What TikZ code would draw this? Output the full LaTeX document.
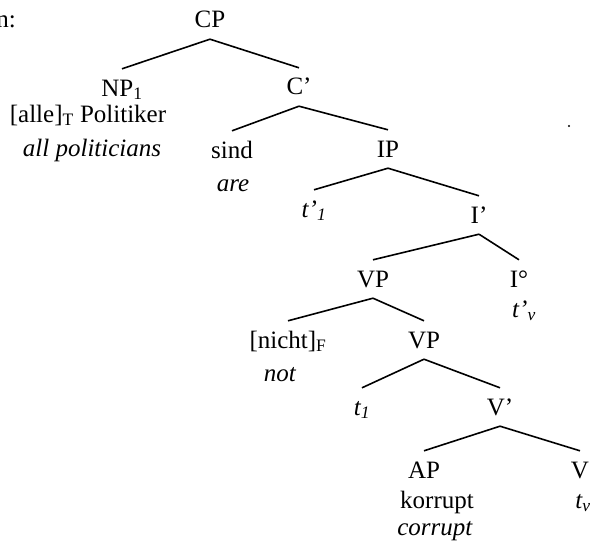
\documentclass[tikz,border=0pt]{standalone}
\usepackage{fontspec}
\setmainfont{Liberation Serif}
\usepackage{tikz}
\usetikzlibrary{positioning}

\tikzset{
	cat/.style={anchor=base,inner xsep=0pt,inner ysep=11pt,text height=16pt,text depth=0pt},
	word/.style={anchor=base,inner sep=0pt},
	branch/.style={line width=1.6pt}
}

\begin{document}
\begin{tikzpicture}[x=1pt,y=-1pt,every node/.style={font=\fontsize{25}{29}\selectfont}]
	\useasboundingbox (0,0) rectangle (592,543);
	% categories
	\node[word,anchor=base east] (lead) at (16,28) {n:};
	\node[cat] (cp)    at (210,28)  {CP};
	\node[cat] (np)    at (122,96)  {NP\textsubscript{1}};
	\node[cat] (cbar)  at (299,95)  {C’};
	\node[cat] (sind)  at (232,158) {sind};
	\node[cat] (ip)    at (388,157) {IP};
	\node[cat] (ttr)   at (314,217) {\textit{t’\textsubscript{1}}};
	\node[cat] (ibar)  at (479,223) {I’};
	\node[cat] (vp)    at (373,287) {VP};
	\node[cat] (infl)  at (519,287) {I°};
	\node[cat] (nicht) at (288,348) {[nicht]\textsubscript{F}};
	\node[cat] (vpb)   at (424,348) {VP};
	\node[cat] (tsub)  at (362,415) {\textit{t\textsubscript{1}}};
	\node[cat] (vbar)  at (500,415) {V’};
	\node[cat] (ap)    at (424,478) {AP};
	\node[cat] (verb)  at (580,478) {V};
	% words and glosses
	\node[word] (alle)   at (88,122)  {[alle]\textsubscript{T} Politiker};
	\node[word] (allgl)  at (92,156)  {\textit{all politicians}};
	\node[word] (aregl)  at (233,191) {\textit{are}};
	\node[word] (itr)    at (524,317) {\textit{t’\textsubscript{v}}};
	\node[word] (notgl)  at (280,381) {\textit{not}};
	\node[word] (korr)   at (437,508) {korrupt};
	\node[word] (vtr)    at (583,508) {\textit{t\textsubscript{v}}};
	\node[word] (corrgl) at (435,535) {\textit{corrupt}};
	\fill (569,126) circle[radius=1.2pt];
	\path[branch]
	(cp.south) edge (np.north)
	(cp.south) edge (cbar.north)
	(cbar.south) edge (sind.north)
	(cbar.south) edge (ip.north)
	(ip.south) edge (ttr.north)
	(ip.south) edge (ibar.north)
	(ibar.south) edge (vp.north)
	(ibar.south) edge (infl.north)
	(vp.south) edge (nicht.north)
	(vp.south) edge (vpb.north)
	(vpb.south) edge (tsub.north)
	(vpb.south) edge (vbar.north)
	(vbar.south) edge (ap.north)
	(vbar.south) edge (verb.north);
\end{tikzpicture}
\end{document}
